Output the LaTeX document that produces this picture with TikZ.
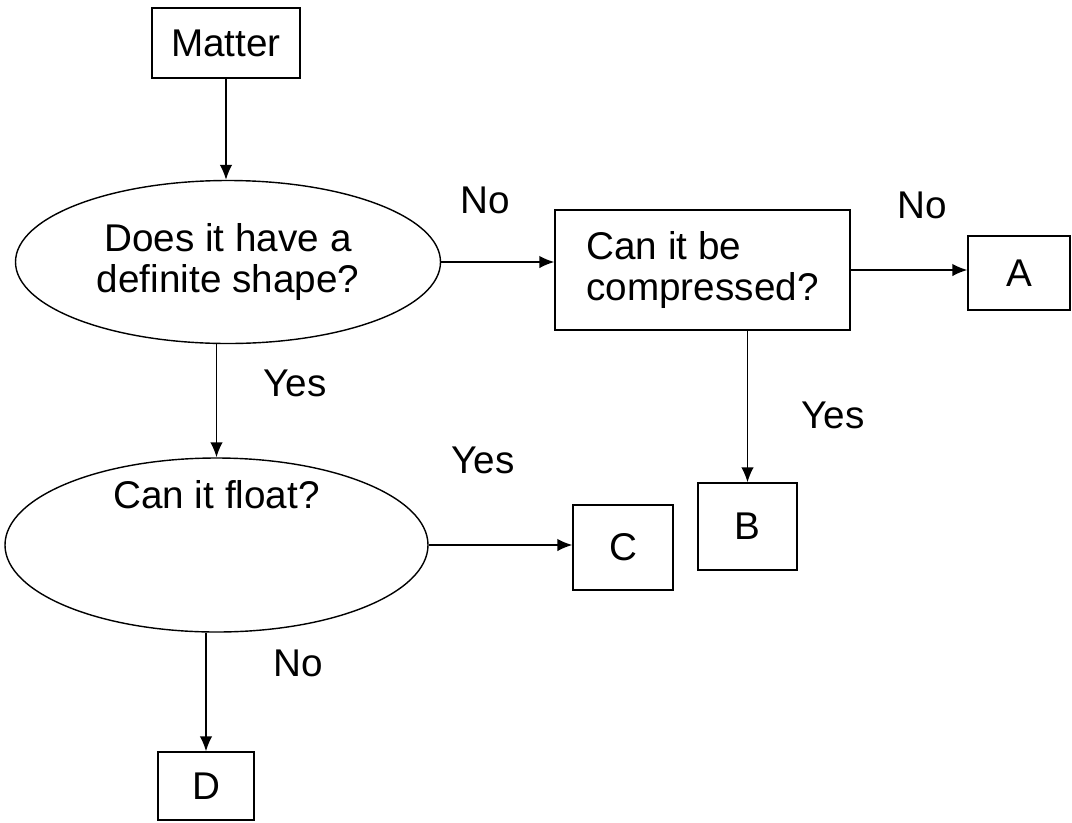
\documentclass[tikz,border=0pt]{standalone}
\usepackage{fontspec}
\setmainfont{Liberation Sans}
\usetikzlibrary{arrows.meta, shapes.geometric}

\begin{document}
\begin{tikzpicture}[
  font=\fontsize{22}{23.5}\selectfont,
  line width=0.8pt,
  >={Latex[length=3mm,width=2.5mm]},
  box/.style={draw, rectangle, inner sep=0pt},
  question/.style={draw, ellipse, inner sep=0pt, align=center},
  answer/.style={inner sep=0pt}
]
\useasboundingbox (0,0) rectangle (21.44,-16.44);

% boxes
\node[box, minimum width=2.96cm, minimum height=1.40cm] (matter) at (4.52,-0.86) {Matter};
\node[box, minimum width=5.90cm, minimum height=2.40cm, align=left] (comp) at (14.05,-5.40) {Can it be\\compressed?};
\node[box, minimum width=2.04cm, minimum height=1.48cm] (A) at (20.38,-5.46) {A};
\node[box, minimum width=1.98cm, minimum height=1.74cm] (B) at (14.95,-10.53) {B};
\node[box, minimum width=2.00cm, minimum height=1.70cm] (C) at (12.46,-10.95) {C};
\node[box, minimum width=1.92cm, minimum height=1.36cm] (D) at (4.12,-15.72) {D};

% questions
\node[question, minimum width=8.50cm, minimum height=3.26cm] (shape) at (4.56,-5.24) {Does it have a\\definite shape?};
\node[question, minimum width=8.46cm, minimum height=3.48cm,
      label={[yshift=1.0cm]center:Can it float?}] (float) at (4.33,-10.90) {};

% connectors
\draw[->] (matter.south) -- (matter.south |- shape.north);
\draw[->] (shape.east) -- (shape.east -| comp.west);
\draw[->] (comp.east) -- (comp.east -| A.west);
\draw[->] (comp.south -| B.north) -- (B.north);
\draw[->] (float.north |- shape.south) -- (float.north);
\draw[->] (float.east) -- (float.east -| C.west);
\draw[->] (D.north |- float.south) -- (D.north);

% answers
\node[answer] (no1) at (9.70,-4.00) {No};
\node[answer] (no2) at (18.44,-4.10) {No};
\node[answer] (yes1) at (5.90,-7.66) {Yes};
\node[answer] (yes2) at (16.66,-8.30) {Yes};
\node[answer] (yes3) at (9.66,-9.20) {Yes};
\node[answer] (no3) at (5.96,-13.26) {No};

\end{tikzpicture}
\end{document}
